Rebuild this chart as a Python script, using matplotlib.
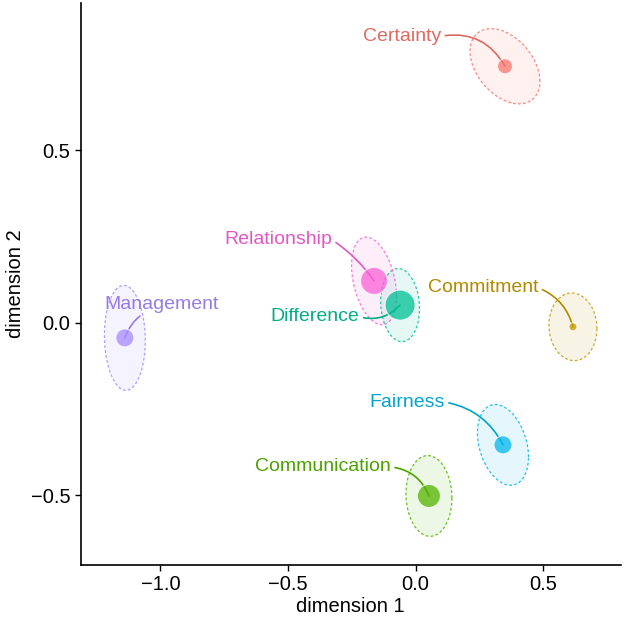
import numpy as np
import matplotlib
matplotlib.use("Agg")
import matplotlib.pyplot as plt
from matplotlib.colors import to_rgb

plt.rcParams['font.family'] = ['Liberation Sans', 'DejaVu Sans']

# ---- data ----
categories = ["Certainty", "Commitment", "Communication", "Difference",
              "Fairness", "Management", "Relationship"]
dim1 = [0.350, 0.616, 0.052, -0.061, 0.342, -1.139, -0.163]
dim2 = [0.743, -0.012, -0.502, 0.051, -0.354, -0.044, 0.121]
size_value = [225, 64, 529, 900, 324, 324, 729]
# ellipse spread (half-extent along each dimension) and correlation
spread1 = [0.137, 0.094, 0.090, 0.076, 0.100, 0.080, 0.088]
spread2 = [0.109, 0.098, 0.117, 0.106, 0.117, 0.152, 0.127]
corr = [-0.40, -0.05, -0.05, -0.10, -0.30, -0.05, -0.35]
colors = ["#F8766D", "#C49A00", "#53B400", "#00C094", "#00B6EB", "#A58AFF", "#FB61D7"]

# label placement (layout)
label_x = [-0.054, 0.264, -0.363, -0.394, -0.034, -0.994, -0.539]
label_y = [0.830, 0.101, -0.418, 0.017, -0.230, 0.054, 0.240]
label_rad = [-0.35, -0.25, -0.3, 0.3, -0.25, 0.45, -0.1]
label_relpos = [(1, 0.5), (1, 0.5), (1, 0.5), (1, 0.5), (1, 0.5), (0.62, 0.05), (1, 0.5)]

fig = plt.figure(figsize=(6.24, 6.18), dpi=100)
ax = fig.add_axes([0.1293, 0.0858, 0.9947 - 0.1293, 0.995 - 0.0858])

t = np.linspace(0, 2 * np.pi, 200)
for i, c in enumerate(colors):
    ex = dim1[i] + spread1[i] * np.cos(t)
    ey = dim2[i] + spread2[i] * (corr[i] * np.cos(t) + np.sqrt(1 - corr[i] ** 2) * np.sin(t))
    ax.fill(ex, ey, color=c, alpha=0.10, lw=0, zorder=1)
    ax.plot(ex, ey, color=c, alpha=0.85, lw=0.9, ls=(0, (2.2, 1.8)), zorder=2)

def darker(c, f=0.9):
    r, g, b = to_rgb(c)
    return (r * f, g * f, b * f)

for i, c in enumerate(colors):
    tc = darker(c)
    ax.annotate(categories[i], xy=(dim1[i], dim2[i]), xytext=(label_x[i], label_y[i]),
                ha='center', va='center', fontsize=14, color=tc, zorder=3,
                arrowprops=dict(arrowstyle='-', color=tc, lw=1.2,
                                connectionstyle=f"arc3,rad={label_rad[i]}",
                                shrinkA=1, shrinkB=0, relpos=label_relpos[i]))

ax.scatter(dim1, dim2, s=np.array(size_value) * 0.52, c=colors, alpha=0.75,
           edgecolors='white', linewidths=0.8, zorder=4)

ax.set_xlim(-1.312, 0.803)
ax.set_ylim(-0.702, 0.926)
ax.set_xticks([-1.0, -0.5, 0.0, 0.5])
ax.set_yticks([-0.5, 0.0, 0.5])
ax.set_xticklabels(["\u22121.0", "\u22120.5", "0.0", "0.5"])
ax.set_yticklabels(["\u22120.5", "0.0", "0.5"])
ax.tick_params(labelsize=14.5, length=4, width=1.0, color='black', labelcolor='black')
for s in ['top', 'right']:
    ax.spines[s].set_visible(False)
for s in ['left', 'bottom']:
    ax.spines[s].set_linewidth(1.2)
ax.set_xlabel("dimension 1", fontsize=14.5, labelpad=2)
ax.set_ylabel("dimension 2", fontsize=14.5, labelpad=4)

fig.savefig("out.png", dpi=100)
